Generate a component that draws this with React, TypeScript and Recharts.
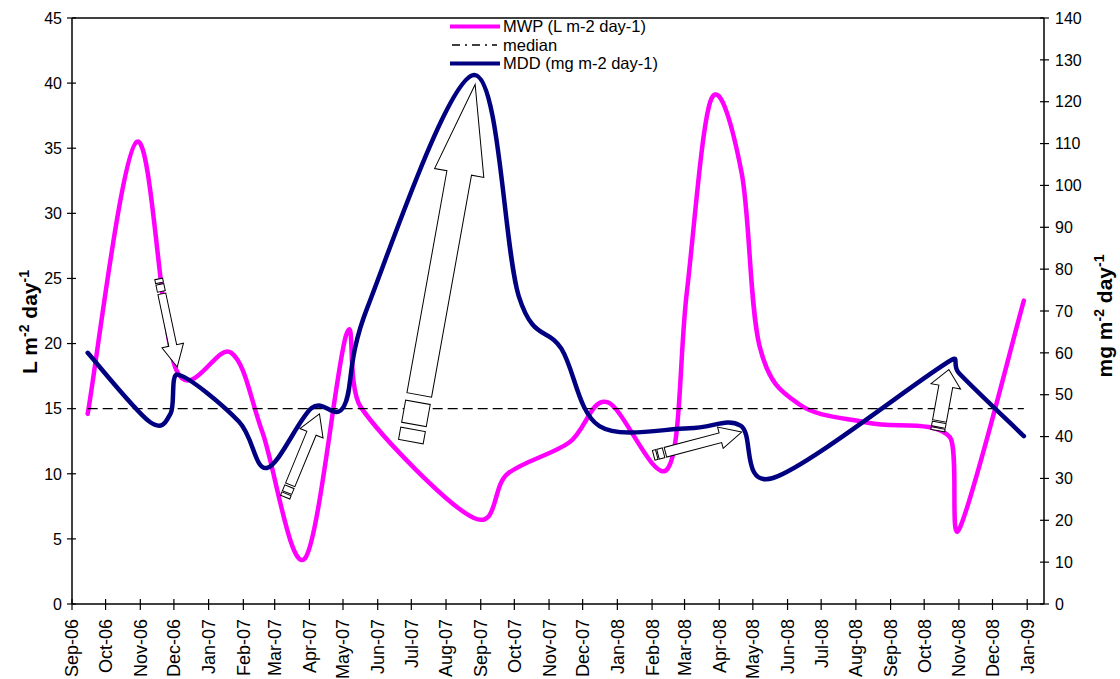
import React from "react";
import { LineChart, Line, XAxis, YAxis, ReferenceLine, ReferenceDot } from "recharts";

// month tick labels on the date axis
const monthLabels = [
  "Sep-06", "Oct-06", "Nov-06", "Dec-06", "Jan-07", "Feb-07", "Mar-07", "Apr-07",
  "May-07", "Jun-07", "Jul-07", "Aug-07", "Sep-07", "Oct-07", "Nov-07", "Dec-07",
  "Jan-08", "Feb-08", "Mar-08", "Apr-08", "May-08", "Jun-08", "Jul-08", "Aug-08",
  "Sep-08", "Oct-08", "Nov-08", "Dec-08", "Jan-09",
];
const leftTicks = [0, 5, 10, 15, 20, 25, 30, 35, 40, 45];
const rightTicks = [0, 10, 20, 30, 40, 50, 60, 70, 80, 90, 100, 110, 120, 130, 140];

// MWP (L m-2 day-1), left axis
const mwpDates = [
  "2006-09-15", "2006-10-29", "2006-12-03", "2007-01-21", "2007-02-18", "2007-03-28",
  "2007-05-04", "2007-05-17", "2007-08-26", "2007-09-25", "2007-11-19", "2007-12-23",
  "2008-02-15", "2008-03-03", "2008-03-25", "2008-04-21", "2008-05-07", "2008-06-12",
  "2008-08-13", "2008-10-24", "2008-11-01", "2008-12-29",
];
const mwpValues = [
  14.6, 35.5, 18.0, 19.3, 13.2, 3.5,
  20.7, 15.1, 6.6, 10.0, 12.4, 15.5,
  10.4, 23.9, 38.8, 33.1, 19.8, 15.3,
  13.9, 12.8, 5.7, 23.3,
];

// MDD (mg m-2 day-1), right axis
const mddDates = [
  "2006-09-15", "2006-11-09", "2006-11-28", "2006-12-04", "2007-01-28", "2007-02-22",
  "2007-04-03", "2007-05-02", "2007-05-23", "2007-08-26", "2007-10-05", "2007-11-12",
  "2007-12-16", "2008-03-05", "2008-04-20", "2008-05-19", "2008-10-26", "2008-11-01",
  "2008-12-29",
];
const mddValues = [
  60.0, 43.6, 45.5, 54.8, 43.6, 32.5,
  46.8, 47.3, 71.0, 126.4, 73.5, 61.0,
  42.5, 42.0, 42.6, 30.1, 58.4, 55.2,
  40.1,
];

// median of MWP
const medianDates = ["2006-09-15", "2008-12-29"];
const medianValues = [15, 15];

const seriesNames = ["MWP (L m-2 day-1)", "median", "MDD (mg m-2 day-1)"];

// arrow tips (left axis values)
const arrowDates = ["2006-12-04", "2007-04-10", "2007-08-27", "2008-04-21", "2008-10-23"];
const arrowValues = [18.2, 14.6, 39.9, 13.2, 18.0];

// arrow looks: angle (deg), length, shaft width, head width, head length, stripe unit
const arrowLooks = [
  { angle: 78.1, len: 90, w: 8, hw: 22, hl: 22, u: 4 },
  { angle: -67.6, len: 90, w: 10, hw: 25, hl: 21, u: 3.5 },
  { angle: -79.8, len: 363, w: 25, hw: 50, hl: 90, u: 12.5 },
  { angle: -14.8, len: 91, w: 10, hw: 22, hl: 22, u: 3.2 },
  { angle: -79.7, len: 62, w: 14, hw: 30, hl: 17, u: 2.6 },
];

const MONTHS = ["Jan", "Feb", "Mar", "Apr", "May", "Jun", "Jul", "Aug", "Sep", "Oct", "Nov", "Dec"];
const monthTicks = monthLabels.map((l) => {
  const [m, y] = l.split("-");
  return Date.UTC(2000 + Number(y), MONTHS.indexOf(m), 1);
});
const xDomain = [Date.UTC(2006, 8, 1), Date.UTC(2009, 0, 16)];

const toRows = (dates: string[], values: number[]) =>
  dates.map((d, i) => ({ t: Date.parse(d), v: values[i] }));

const mwpData = toRows(mwpDates, mwpValues);
const mddData = toRows(mddDates, mddValues);
const medianData = toRows(medianDates, medianValues);

const FONT = "'Liberation Sans', Arial, sans-serif";

// smooth line close to the spreadsheet one (bezier, 1/6 tangents, no x backtracking)
function smoothCurve(context: any) {
  let pts: number[][] = [];
  return {
    areaStart() {},
    areaEnd() {},
    lineStart() {
      pts = [];
    },
    point(x: number, y: number) {
      pts.push([+x, +y]);
    },
    lineEnd() {
      const n = pts.length;
      if (!n) return;
      context.moveTo(pts[0][0], pts[0][1]);
      for (let i = 0; i < n - 1; i++) {
        const p0 = pts[i > 0 ? i - 1 : 0];
        const p1 = pts[i];
        const p2 = pts[i + 1];
        const p3 = pts[i + 2 < n ? i + 2 : n - 1];
        const dx = p2[0] - p1[0];
        let ax = (p2[0] - p0[0]) / 6;
        let ay = (p2[1] - p0[1]) / 6;
        let bx = (p3[0] - p1[0]) / 6;
        let by = (p3[1] - p1[1]) / 6;
        if (Math.abs(ax) > dx && ax !== 0) {
          const k = dx / Math.abs(ax);
          ax *= k;
          ay *= k;
        }
        if (Math.abs(bx) > dx && bx !== 0) {
          const k = dx / Math.abs(bx);
          bx *= k;
          by *= k;
        }
        context.bezierCurveTo(p1[0] + ax, p1[1] + ay, p2[0] - bx, p2[1] - by, p2[0], p2[1]);
      }
    },
  };
}

const XTick = (props: any) => {
  const { x, y, payload } = props;
  const label = monthLabels[monthTicks.indexOf(payload.value)];
  const ty = y + 15;
  return (
    <g>
      <line x1={x} x2={x} y1={y - 5} y2={y + 6} stroke="#000" strokeWidth={1.2} />
      <text
        x={x}
        y={ty}
        dy="0.36em"
        transform={`rotate(-90 ${x} ${ty})`}
        textAnchor="end"
        fontSize={18}
        fontFamily={FONT}
        fill="#000"
      >
        {label}
      </text>
    </g>
  );
};

const LeftTick = (props: any) => {
  const { x, y, payload } = props;
  return (
    <g>
      <line x1={x - 5} x2={x + 4} y1={y} y2={y} stroke="#000" strokeWidth={1.2} />
      <text x={x - 10} y={y} dy="0.36em" textAnchor="end" fontSize={16} fontFamily={FONT} fill="#000">
        {payload.value}
      </text>
    </g>
  );
};

const RightTick = (props: any) => {
  const { x, y, payload } = props;
  return (
    <g>
      <line x1={x - 4} x2={x + 5} y1={y} y2={y} stroke="#000" strokeWidth={1.2} />
      <text x={x + 11} y={y} dy="0.36em" textAnchor="start" fontSize={16} fontFamily={FONT} fill="#000">
        {payload.value}
      </text>
    </g>
  );
};

const AxisTitle = (props: any) => {
  const { viewBox, side } = props;
  const vb = viewBox || {};
  const left = side === "left";
  const bx = left ? (vb.x ?? 20) + 17 : (vb.x ?? 1044) + 68;
  const cy = (vb.y ?? 18) + (vb.height ?? 586) / 2 + (left ? 11 : 5);
  return (
    <text
      x={bx}
      y={cy}
      transform={`rotate(-90 ${bx} ${cy})`}
      textAnchor="middle"
      fontSize={21}
      fontWeight="bold"
      fontFamily={FONT}
      fill="#000"
    >
      {left ? "L m" : "mg m"}
      <tspan dy={-8} fontSize={14}>-2</tspan>
      <tspan dy={8}> day</tspan>
      <tspan dy={-8} fontSize={14}>-1</tspan>
    </text>
  );
};

const makeArrow = (look: any) => (props: any) => {
  const { cx, cy } = props;
  if (cx == null || cy == null) return <g />;
  const { angle, len, w, hw, hl, u } = look;
  const s0 = -len;
  const shaftStart = s0 + 3.8 * u;
  const pts = [
    [0, 0],
    [-hl, -hw / 2],
    [-hl, -w / 2],
    [shaftStart, -w / 2],
    [shaftStart, w / 2],
    [-hl, w / 2],
    [-hl, hw / 2],
  ]
    .map((p) => p.join(","))
    .join(" ");
  return (
    <g transform={`translate(${cx},${cy}) rotate(${angle})`}>
      <rect x={s0} y={-w / 2} width={u} height={w} fill="#fff" stroke="#000" strokeWidth={1} />
      <rect x={s0 + 1.4 * u} y={-w / 2} width={1.8 * u} height={w} fill="#fff" stroke="#000" strokeWidth={1} />
      <polygon points={pts} fill="#fff" stroke="#000" strokeWidth={1} strokeLinejoin="miter" />
    </g>
  );
};

const legendRows = [12.5, 31, 49.5];

const LegendBox = () => (
  <svg
    width={260}
    height={64}
    style={{ position: "absolute", left: 440, top: 14, pointerEvents: "none" }}
  >
    <line x1={10} x2={60} y1={legendRows[0]} y2={legendRows[0]} stroke="#FF00FF" strokeWidth={4} />
    <text x={63} y={legendRows[0]} dy="0.36em" fontSize={16.5} fontFamily={FONT} fill="#000">
      {seriesNames[0]}
    </text>
    <line
      x1={12}
      x2={57}
      y1={legendRows[1]}
      y2={legendRows[1]}
      stroke="#000"
      strokeWidth={1.3}
      strokeDasharray="8 5 2 5"
    />
    <text x={63} y={legendRows[1]} dy="0.36em" fontSize={16.5} fontFamily={FONT} fill="#000">
      {seriesNames[1]}
    </text>
    <line x1={10} x2={60} y1={legendRows[2]} y2={legendRows[2]} stroke="#000080" strokeWidth={4} />
    <text x={63} y={legendRows[2]} dy="0.36em" fontSize={16.5} fontFamily={FONT} fill="#000">
      {seriesNames[2]}
    </text>
  </svg>
);

export default function App() {
  return (
    <div style={{ position: "absolute", left: 0, top: 0, width: 1120, height: 679, background: "#fff" }}>
      <LineChart
        width={1120}
        height={679}
        margin={{ top: 18, right: 16, bottom: 5, left: 20 }}
        style={{ fontFamily: FONT }}
      >
        <XAxis
          dataKey="t"
          type="number"
          scale="linear"
          domain={xDomain}
          ticks={monthTicks}
          interval={0}
          height={70}
          tickLine={false}
          tickSize={0}
          tickMargin={0}
          tick={<XTick />}
          axisLine={{ stroke: "#000", strokeWidth: 1.5 }}
          allowDuplicatedCategory={false}
        />
        <YAxis
          yAxisId="left"
          orientation="left"
          type="number"
          domain={[0, 45]}
          ticks={leftTicks}
          interval={0}
          width={52}
          tickLine={false}
          tickSize={0}
          tickMargin={0}
          tick={<LeftTick />}
          axisLine={{ stroke: "#000", strokeWidth: 1.5 }}
          label={{ content: (p: any) => <AxisTitle {...p} side="left" /> }}
        />
        <YAxis
          yAxisId="right"
          orientation="right"
          type="number"
          domain={[0, 140]}
          ticks={rightTicks}
          interval={0}
          width={60}
          tickLine={false}
          tickSize={0}
          tickMargin={0}
          tick={<RightTick />}
          axisLine={{ stroke: "#000", strokeWidth: 1.5 }}
          label={{ content: (p: any) => <AxisTitle {...p} side="right" /> }}
        />
        <ReferenceLine yAxisId="left" y={45} stroke="#000" strokeWidth={1.5} />
        <Line
          yAxisId="left"
          data={mwpData}
          dataKey="v"
          name={seriesNames[0]}
          type={smoothCurve as any}
          stroke="#FF00FF"
          strokeWidth={4.5}
          strokeLinecap="round"
          strokeLinejoin="round"
          dot={false}
          activeDot={false}
          isAnimationActive={false}
        />
        <Line
          yAxisId="left"
          data={medianData}
          dataKey="v"
          name={seriesNames[1]}
          type="linear"
          stroke="#000"
          strokeWidth={1.3}
          strokeDasharray="10 5"
          dot={false}
          activeDot={false}
          isAnimationActive={false}
        />
        <Line
          yAxisId="right"
          data={mddData}
          dataKey="v"
          name={seriesNames[2]}
          type={smoothCurve as any}
          stroke="#000080"
          strokeWidth={4.5}
          strokeLinecap="round"
          strokeLinejoin="round"
          dot={false}
          activeDot={false}
          isAnimationActive={false}
        />
        {arrowDates.map((d, i) => (
          <ReferenceDot
            key={d}
            yAxisId="left"
            x={Date.parse(d)}
            y={arrowValues[i]}
            shape={makeArrow(arrowLooks[i])}
          />
        ))}
      </LineChart>
      <LegendBox />
    </div>
  );
}
